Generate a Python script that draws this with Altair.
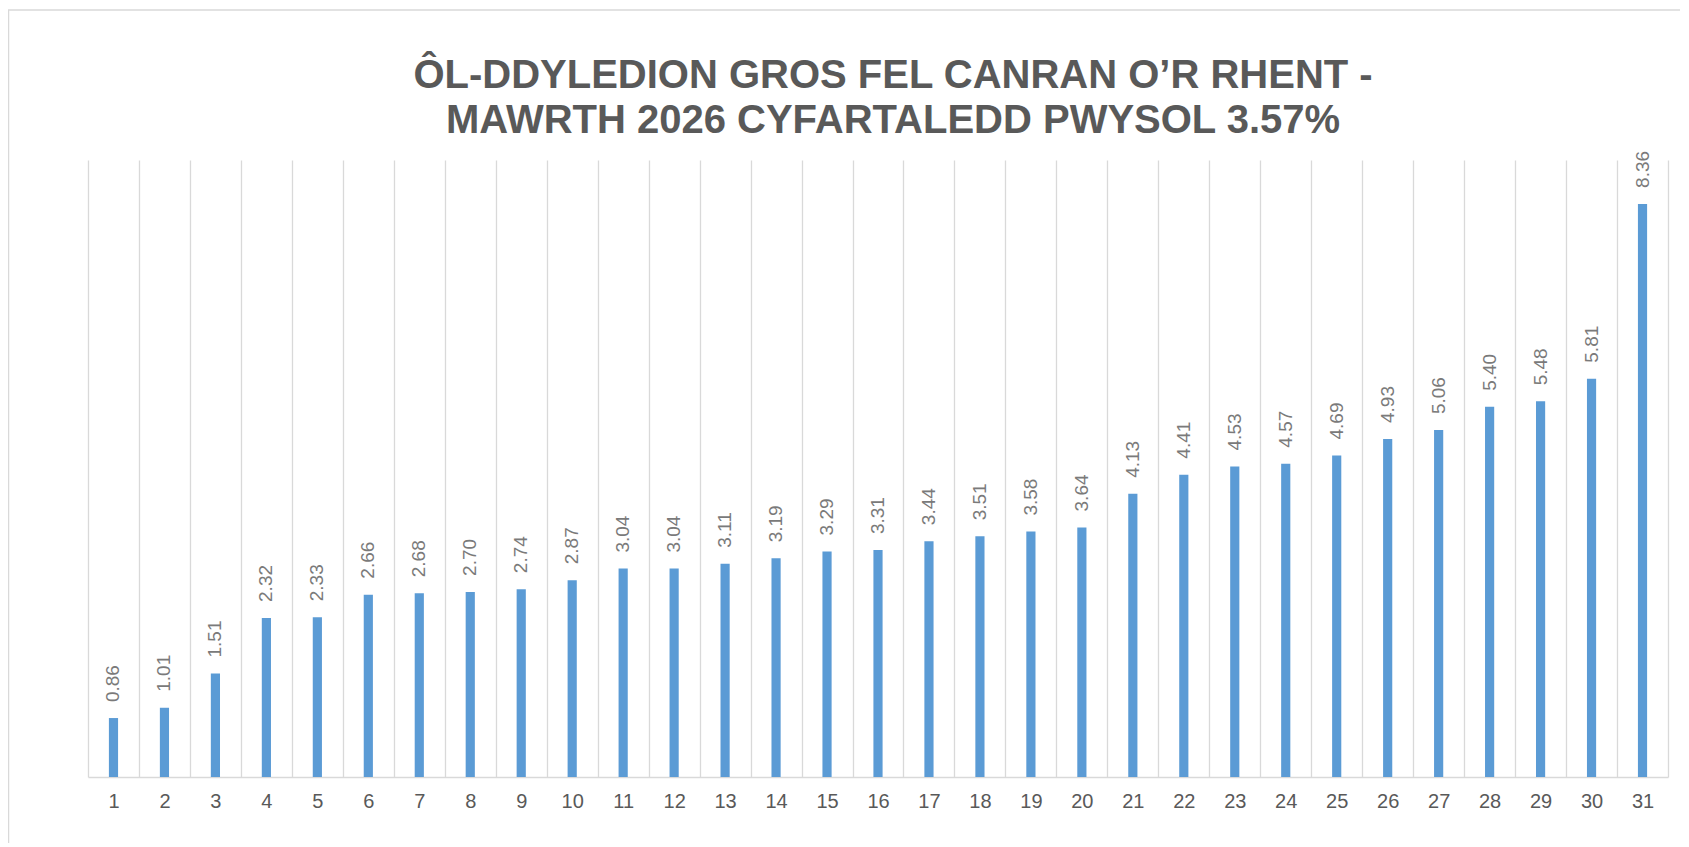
import altair as alt
import pandas as pd

categories = [str(i) for i in range(1, 32)]
values = [0.86, 1.01, 1.51, 2.32, 2.33, 2.66, 2.68, 2.70, 2.74, 2.87,
          3.04, 3.04, 3.11, 3.19, 3.29, 3.31, 3.44, 3.51, 3.58, 3.64,
          4.13, 4.41, 4.53, 4.57, 4.69, 4.93, 5.06, 5.40, 5.48, 5.81, 8.36]
title_lines = ["ÔL-DDYLEDION GROS FEL CANRAN O’R RHENT -",
               "MAWRTH 2026 CYFARTALEDD PWYSOL 3.57%"]

df = pd.DataFrame({"cat": categories, "val": values})
one = pd.DataFrame({"a": [0]})

FONT = "Liberation Sans"
W, H = 1580, 617

x_enc = alt.X(
    "cat:N", sort=categories,
    scale=alt.Scale(paddingInner=0, paddingOuter=0),
    axis=alt.Axis(
        title=None, labelAngle=0, labelFont=FONT, labelFontSize=20,
        labelColor="#595959", labelPadding=14, ticks=False, tickBand="extent",
        grid=True, gridColor="#d9d9d9", gridWidth=1.3,
        domainColor="#d9d9d9", domainWidth=1.6,
    ),
)
y_enc = alt.Y("val:Q", scale=alt.Scale(domain=[0, 9]), axis=None)

frame = alt.Chart(one).mark_rect(
    fill=None, stroke="#d9d9d9", strokeWidth=1.5
).encode(
    x=alt.value(-79.5), x2=alt.value(1700), y=alt.value(-150), y2=alt.value(760)
)

bars = alt.Chart(df).mark_bar(
    color="#5b9bd5", width=alt.RelativeBandSize(0.18)
).encode(x=x_enc, y=y_enc)

labels = alt.Chart(df).mark_text(
    angle=270, align="left", baseline="middle", dx=16,
    font=FONT, fontSize=19, color="#7a7a7a"
).encode(x=x_enc, y=y_enc, text=alt.Text("val:Q", format=".2f"))

title = alt.Chart(one).mark_text(
    text=title_lines, font=FONT, fontSize=40, fontWeight="bold",
    color="#595959", align="center", baseline="alphabetic", lineHeight=45
).encode(x=alt.value(805), y=alt.value(-72))

chart = alt.layer(frame, bars, labels, title).properties(
    width=W, height=H,
    autosize=alt.AutoSizeParams(type="none"),
    padding={"left": 80, "top": 152, "right": 12, "bottom": 66},
).configure_view(stroke=None)

chart.save("out.html", embed_options={"renderer": "svg", "actions": False})
